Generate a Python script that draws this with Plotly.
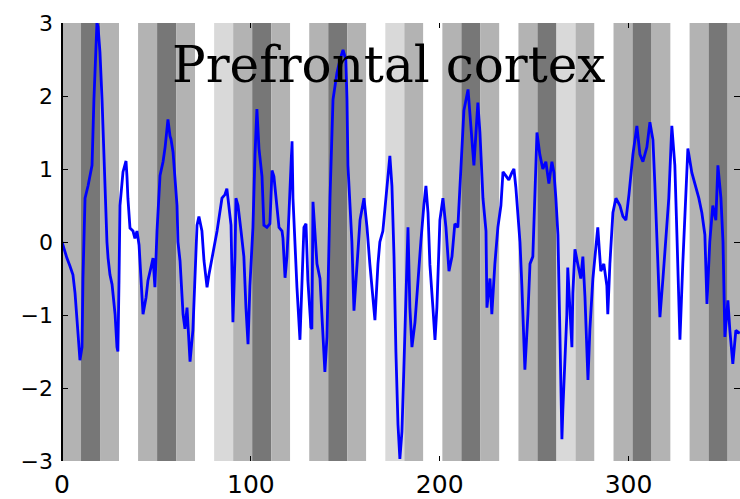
import plotly.graph_objects as go

# ---- data ----
# time series (x in scans, y in signal units)
series_x = [0, 1.6, 2.6, 4.2, 5.8, 6.9, 7.9, 8.5, 9.5, 10.6, 11.1, 12.2, 13.8, 14.8, 15.9, 16.9, 18, 18.5, 19.1, 20.1,
            21.2, 22.2, 23.3, 23.8, 24.4, 25.4, 26.5, 28.1, 29.1, 29.6, 30.2, 30.7, 32.3, 33.9, 34.4, 34.9, 36, 37.6, 38.6, 39.7,
            40.8, 41.8, 42.9, 44.5, 45.5, 47.1, 48.2, 49.2, 50.3, 51.9, 53.5, 54.6, 55.6, 56.1, 57.2, 57.7, 58.8, 59.8, 60.9, 61.4,
            62.5, 64.1, 65.1, 66.2, 67.2, 67.8, 69.3, 70.4, 71.5, 72.5, 74.1, 75.2, 76.8, 77.8, 79.4, 80.5, 82.1, 84.7, 86.3, 87.3,
            88.4, 89.5, 90.5, 91.6, 92.1, 93.2, 94.8, 96.3, 97.4, 98.5, 99.5, 101.1, 102.2, 103.2, 104.3, 105.9, 106.9, 108.5, 110.1, 111.2,
            112.2, 113.3, 114.9, 116.5, 117, 118.1, 119.1, 120.2, 121.8, 122.3, 123.3, 124.4, 126, 127, 128.1, 129.2, 130.2, 131.8, 132.3, 132.9,
            133.9, 135, 136.6, 138.2, 139.2, 140.3, 141.9, 143.5, 145.6, 147.2, 148.8, 150.3, 150.9, 151.4, 152.5, 153.5, 154.6, 156.2, 157.8, 159.9,
            161.5, 163, 164.6, 165.7, 167.3, 168.3, 169.9, 172, 173.6, 174.7, 175.8, 176.8, 177.9, 178.9, 180, 181, 182.1, 183.2, 184.2, 185.3,
            186.9, 188.5, 190, 191.6, 192.7, 193.8, 194.8, 196.4, 197.5, 198.5, 200.1, 201.7, 203.3, 204.9, 206.5, 208, 209.6, 211.2, 212.8, 215,
            216.5, 218.1, 220.2, 221.3, 222.9, 224.5, 225, 226.6, 227.6, 229.2, 230.8, 232.4, 233.5, 235, 236.6, 238.2, 239.3, 240.3, 241.4, 242.5,
            243.5, 245.1, 246.7, 247.8, 249.3, 250.4, 251.5, 253, 254.6, 256.2, 257.8, 259.4, 260.5, 261.5, 262.6, 263.6, 264.7, 265.2, 266.3, 267.3,
            267.8, 268.9, 270, 270.5, 271.6, 273.1, 274.7, 275.8, 276.9, 278.5, 279.5, 281.1, 282.7, 283.7, 285.3, 286.9, 288.5, 289, 290.1, 291.7,
            293.3, 295.4, 297, 298.6, 300.2, 302.3, 304.4, 306, 307.6, 309.7, 311.3, 312.9, 313.9, 315, 316.6, 318.2, 319.8, 321.3, 322.9, 324.5,
            325.6, 327.2, 328.7, 330.3, 331.4, 333.5, 335.1, 337.2, 338.8, 340.4, 341.5, 343, 344.6, 346.2, 347.3, 348.9, 350, 351, 352.6, 353.6,
            355.2, 356.8, 358.9]
series_y = [0.0, -0.15, -0.22, -0.33, -0.45, -0.7, -0.99, -1.26, -1.62, -1.44, -0.5, 0.6, 0.77, 0.9, 1.05, 1.95, 2.7, 3.0, 2.95, 2.6,
            1.95, 1.14, 0.5, 0.0, -0.22, -0.45, -0.58, -0.99, -1.44, -1.5, -0.5, 0.5, 0.96, 1.11, 0.9, 0.6, 0.19, 0.15, 0.05, 0.15,
            -0.04, -0.53, -0.99, -0.76, -0.53, -0.35, -0.22, -0.62, 0.15, 0.91, 1.1, 1.3, 1.59, 1.68, 1.45, 1.41, 1.23, 0.87, 0.5, 0.0,
            -0.26, -0.99, -1.19, -0.9, -1.3, -1.64, -1.21, -0.53, 0.23, 0.35, 0.15, -0.26, -0.62, -0.45, -0.22, -0.1, 0.15, 0.6, 0.65, 0.73,
            0.5, 0.23, -1.1, -0.2, 0.6, 0.5, 0.15, -0.2, -0.9, -1.4, -0.6, 0.2, 1.2, 1.82, 1.28, 0.9, 0.23, 0.2, 0.25, 0.98,
            0.9, 0.6, 0.2, 0.15, 0.05, -0.49, -0.2, 0.4, 1.38, 0.6, 0.0, -0.62, -1.34, -0.5, 0.2, 0.25, -0.53, -1.17, -1.19, 0.55,
            0.2, -0.3, -0.5, -1.21, -1.78, -1.3, 0.6, 1.95, 2.32, 2.5, 2.63, 2.5, 1.95, 1.05, 0.41, 0.0, -0.94, -0.3, 0.3, 0.6,
            0.2, -0.3, -0.8, -1.07, -0.3, 0.0, 0.15, 0.8, 1.18, 0.77, -0.2, -1.5, -2.5, -2.97, -2.6, -1.75, -0.8, 0.2, -0.9, -1.44,
            -1.1, -0.5, 0.0, 0.5, 0.77, 0.4, -0.31, -0.9, -1.34, -0.9, 0.3, 0.6, 0.2, -0.4, -0.2, 0.25, 0.2, 1.0, 1.8, 2.09,
            1.6, 1.05, 1.91, 1.5, 0.6, 0.15, -0.9, -0.5, -0.99, -0.3, 0.2, 0.5, 0.96, 0.9, 0.85, 0.95, 1.0, 0.75, 0.4, 0.0,
            -0.6, -1.75, -0.99, -0.3, -0.2, 0.6, 1.5, 1.2, 1.0, 1.1, 0.8, 1.1, 0.95, 0.6, 0.1, -1.2, -2.7, -2.3, -1.6, -1.0,
            -0.35, -0.95, -1.44, -0.7, -0.1, -0.3, -0.5, -0.2, -0.75, -1.89, -1.2, -0.5, -0.05, 0.2, -0.4, -0.3, -0.6, -0.99, -0.3, 0.4,
            0.6, 0.5, 0.35, 0.3, 0.65, 1.2, 1.59, 1.2, 1.1, 1.3, 1.64, 1.4, 0.8, 0.0, -1.03, -0.5, 0.1, 0.6, 1.59, 1.05,
            0.1, -1.34, -0.3, 0.6, 1.28, 0.95, 0.8, 0.6, 0.4, 0.1, -0.85, 0.0, 0.5, 0.3, 1.05, 0.6, 0.0, -1.3, -0.8, -1.2,
            -1.67, -1.21, -1.25]

# block design (condition of each consecutive block)
block_len = 10.07
block_conditions = ["G", "D", "G", "W", "G", "D", "G", "W", "L", "G", "D", "G", "W", "G", "D", "G", "W", "L",
                    "G", "W", "G", "D", "G", "W", "G", "D", "L", "G", "W", "G", "D", "G", "W", "G", "D", "G"]
condition_colors = {"G": "#b3b3b3", "D": "#777777", "L": "#d9d9d9", "W": "#ffffff"}

x_ticks = [0, 100, 200, 300]
y_ticks = [-3, -2, -1, 0, 1, 2, 3]
title_text = "Prefrontal cortex"

x_range = [0, 359]
y_range = [-3, 3]

# ---- figure ----
fig = go.Figure()

shapes = []
for i, cond in enumerate(block_conditions):
    x0 = i * block_len
    x1 = min((i + 1) * block_len, x_range[1])
    if x0 >= x_range[1]:
        break
    shapes.append(dict(type="rect", xref="x", yref="y domain", x0=x0, x1=x1, y0=0, y1=1,
                       fillcolor=condition_colors[cond], line=dict(width=0), layer="below"))
# left axis line
shapes.append(dict(type="line", xref="x domain", yref="y domain", x0=0, x1=0, y0=0, y1=1,
                   line=dict(color="black", width=2), layer="above"))

fig.add_trace(go.Scatter(x=series_x, y=series_y, mode="lines",
                         line=dict(color="#0000ff", width=2.8), showlegend=False))

fig.update_layout(
    width=740, height=499,
    margin=dict(l=62, r=0, t=23, b=34),
    paper_bgcolor="white", plot_bgcolor="white",
    shapes=shapes,
    annotations=[dict(text=title_text, x=173, y=2.42, xref="x", yref="y",
                      xanchor="center", yanchor="middle", showarrow=False,
                      font=dict(family="DejaVu Serif", size=50, color="black"))],
)
fig.update_xaxes(range=x_range, tickvals=x_ticks, ticks="inside", ticklen=5, tickcolor="black",
                 mirror="ticks", showline=False, showgrid=False, zeroline=False,
                 tickfont=dict(family="DejaVu Sans", size=25, color="black"), ticklabelstandoff=6)
fig.update_yaxes(range=y_range, tickvals=y_ticks, ticks="inside", ticklen=6, tickcolor="black",
                 mirror="ticks", showline=False, showgrid=False, zeroline=False,
                 tickfont=dict(family="DejaVu Sans", size=22, color="black"), ticklabelstandoff=8)

fig.write_html("out.html")
